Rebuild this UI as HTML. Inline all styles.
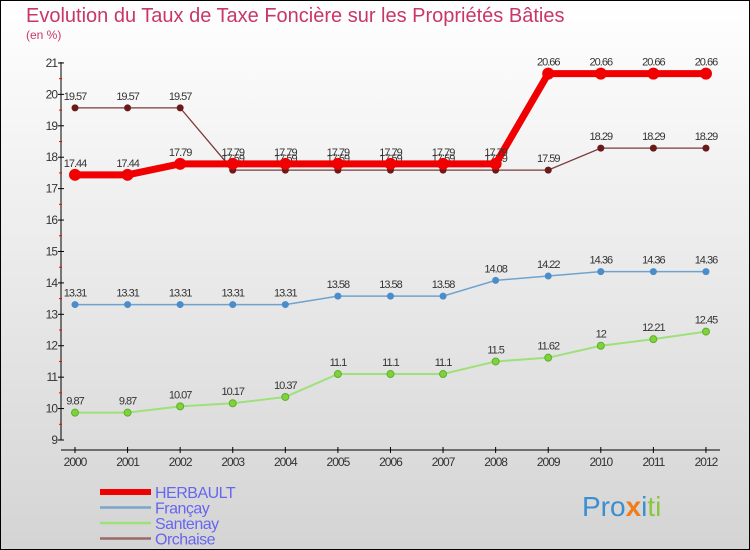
<!DOCTYPE html>
<html><head><meta charset="utf-8"><style>
body{margin:0}
svg{display:block;font-family:"Liberation Sans","DejaVu Sans",sans-serif}
</style></head><body>
<svg width="750" height="550" id="c">
<defs><linearGradient id="bg" x1="0" y1="0" x2="0" y2="1"><stop offset="0" stop-color="#ffffff"/><stop offset="1" stop-color="#d4d4d4"/></linearGradient></defs>
<rect x="0.5" y="0.5" width="749" height="549" fill="url(#bg)" stroke="#000"/>
<text x="26" y="22" font-size="20" fill="#c8366a">Evolution du Taux de Taxe Foncière sur les Propriétés Bâties</text>
<text x="26" y="39" font-size="12" fill="#c8366a">(en %)</text>
<g id="axes"></g><g id="series"></g><g id="legend"></g>
<text x="582" y="516" font-size="28"><tspan fill="#3b8fd0">Pro</tspan><tspan fill="#f07c1c" font-weight="bold">x</tspan><tspan fill="#3b8fd0">i</tspan><tspan fill="#8cc63f">ti</tspan></text>
</svg>
<script>
const years=[2000,2001,2002,2003,2004,2005,2006,2007,2008,2009,2010,2011,2012];
const yTicks=[9,10,11,12,13,14,15,16,17,18,19,20,21];
const herbault=[17.44,17.44,17.79,17.79,17.79,17.79,17.79,17.79,17.79,20.66,20.66,20.66,20.66];
const francay=[13.31,13.31,13.31,13.31,13.31,13.58,13.58,13.58,14.08,14.22,14.36,14.36,14.36];
const santenay=[9.87,9.87,10.07,10.17,10.37,11.1,11.1,11.1,11.5,11.62,12,12.21,12.45];
const orchaise=[19.57,19.57,19.57,17.59,17.59,17.59,17.59,17.59,17.59,17.59,18.29,18.29,18.29];
const NS='http://www.w3.org/2000/svg';
const X=i=>75+i*52.58, Y=v=>440-(v-9)*31.42;
function mk(t,a,p){const e=document.createElementNS(NS,t);for(const k in a)e.setAttribute(k,a[k]);p.appendChild(e);return e;}
const ax=document.getElementById('axes');
let l=mk('line',{x1:61,y1:62,x2:61,y2:440,stroke:'#000'},ax);


l=mk('line',{x1:61,y1:450,x2:720,y2:450,stroke:'#000'},ax);


yTicks.forEach(v=>{const y=Y(v);mk('line',{x1:58,y1:y,x2:64,y2:y,stroke:'#000'},ax);
 if(v<21)mk('line',{x1:59,y1:y-15.7,x2:62,y2:y-15.7,stroke:'#f00'},ax);
 const t=mk('text',{x:57,y:y+4,'font-size':12,'text-anchor':'end',fill:'#333','letter-spacing':'-1'},ax);t.textContent=v;
 
 });
years.forEach((yr,i)=>{const x=X(i);mk('line',{x1:x,y1:447,x2:x,y2:453,stroke:'#000'},ax);
 const t=mk('text',{x:x,y:466,'font-size':12,'text-anchor':'middle',fill:'#333','letter-spacing':'-1'},ax);t.textContent=yr;
 
 });
const sg=document.getElementById('series');
const defs=[
 {n:'orchaise',d:orchaise,c:'#7a3b3b',f:'#6b1a1a',w:1.3,r:3.5},
 {n:'santenay',d:santenay,c:'#9ee07a',f:'#7ed23a',w:2,r:3.5},
 {n:'francay',d:francay,c:'#6fa3cf',f:'#4b8dcb',w:1.5,r:3.5},
 {n:'herbault',d:herbault,c:'#f00000',f:'#f00000',w:7,r:6}];
defs.forEach(s=>{const g=mk('g',{},sg);
 
 
 const p=mk('polyline',{points:s.d.map((v,i)=>X(i)+','+Y(v)).join(' '),fill:'none',stroke:s.c,'stroke-width':s.w},g);
 
 
 s.d.forEach((v,i)=>{const c=mk('circle',{cx:X(i),cy:Y(v),r:s.r,fill:s.f,stroke:s.n==='santenay'?'#5fae2a':'none'},g);
  
  
  const t=mk('text',{x:X(i),y:Y(v)-8,'font-size':11,'text-anchor':'middle',fill:'#333','letter-spacing':'-1'},g);t.textContent=v;
  
  });});
const lg=document.getElementById('legend');
[['HERBAULT','#f00000',6],['Françay','#7aa6cc',2.5],['Santenay','#9ee07a',2.5],['Orchaise','#9a6a6a',2.5]].forEach((e,i)=>{
 const y=492+i*15.5;
 const r=mk('line',{x1:100,y1:y,x2:151,y2:y,stroke:e[1],'stroke-width':e[2]},lg);
 
 
 const t=mk('text',{x:155,y:y+6,'font-size':16,fill:'#6666ee','letter-spacing':'-0.5'},lg);t.textContent=e[0];
 
 });
</script>
</body></html>
